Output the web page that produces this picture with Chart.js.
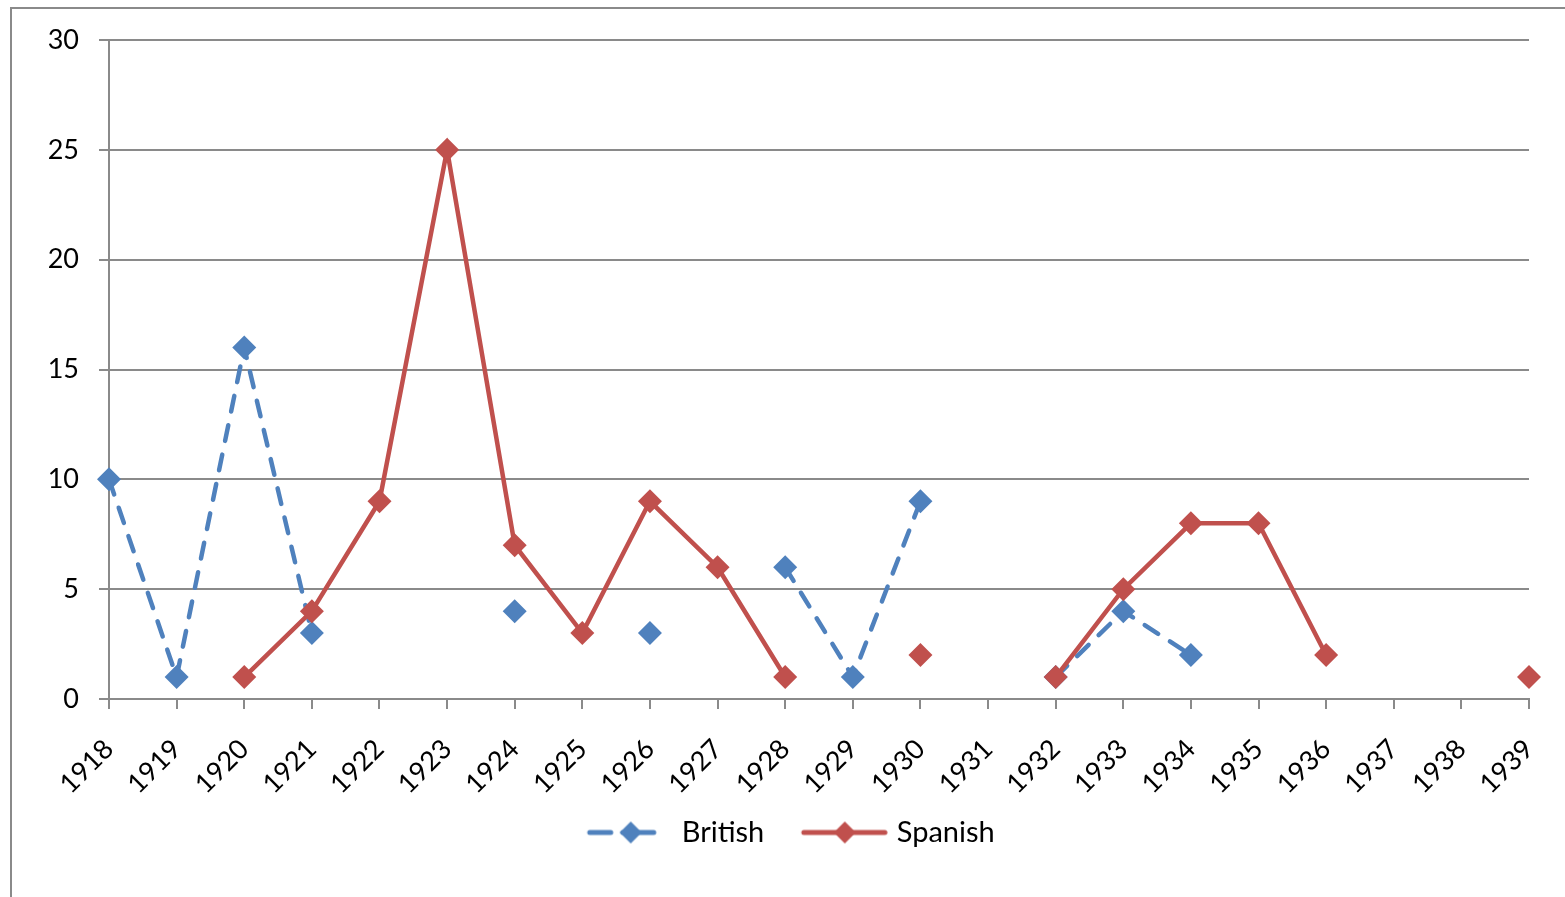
<!DOCTYPE html>
<html>
<head>
<meta charset="utf-8">
<script src="https://cdn.jsdelivr.net/npm/chart.js@4"></script>
<style>
  html, body { margin: 0; padding: 0; background: #fff; }
  #wrap { width: 1565px; height: 897px; position: relative; }
</style>
</head>
<body>
<div id="wrap"><canvas id="chart"></canvas></div>
<script>
const years = ["1918","1919","1920","1921","1922","1923","1924","1925","1926","1927","1928",
  "1929","1930","1931","1932","1933","1934","1935","1936","1937","1938","1939"];
const british = [10, 1, 16, 3, null, null, 4, null, 3, null, 6, 1, 9, null, 1, 4, 2, null, null, null, null, null];
const spanish = [null, null, 1, 4, 9, 25, 7, 3, 9, 6, 1, null, 2, null, 1, 5, 8, 8, 2, null, null, 1];
const yTicks = [0, 5, 10, 15, 20, 25, 30];

const BLUE = "#4F81BD";
const RED = "#C0504D";
const GRAY = "#8a8a8a";
const FONT = "Lato";

// legend swatch: line with a diamond in the middle
function swatch(color, dashed) {
  const c = document.createElement("canvas");
  c.width = 88; c.height = 30;
  const g = c.getContext("2d");
  g.strokeStyle = color;
  g.lineWidth = 5;
  g.lineCap = "round";
  g.beginPath();
  if (dashed) {
    g.moveTo(5, 15); g.lineTo(26, 15);
    g.moveTo(38, 15); g.lineTo(69, 15);
  } else {
    g.moveTo(4, 15); g.lineTo(85, 15);
  }
  g.stroke();
  g.fillStyle = color;
  g.beginPath();
  const cx = dashed ? 46 : 45;
  g.moveTo(cx - 11, 15); g.lineTo(cx, 4); g.lineTo(cx + 11, 15); g.lineTo(cx, 26);
  g.closePath(); g.fill();
  return c;
}
const swatches = [swatch(BLUE, true), swatch(RED, false)];

// outer chart border + nudge the legend to where excel put it
const frame = {
  id: "frame",
  afterLayout(chart) {
    const lg = chart.legend;
    lg.left += 28; lg.right += 28;
    lg.top -= 22; lg.bottom -= 22;
  },
  beforeDraw(chart) {
    const ctx = chart.ctx;
    ctx.save();
    ctx.strokeStyle = GRAY;
    ctx.lineWidth = 2;
    ctx.beginPath();
    ctx.moveTo(11, 900); ctx.lineTo(11, 8); ctx.lineTo(1570, 8);
    ctx.stroke();
    ctx.restore();
  }
};

new Chart(document.getElementById("chart"), {
  type: "line",
  data: {
    labels: years,
    datasets: [
      {
        label: "British",
        data: british,
        borderColor: BLUE,
        backgroundColor: BLUE,
        borderWidth: 4.5,
        borderDash: [16, 14],
        borderCapStyle: "round",
        pointStyle: "rectRot",
        pointRadius: 12,
        pointBorderWidth: 0,
        pointBackgroundColor: BLUE,
        tension: 0,
        order: 1
      },
      {
        label: "Spanish",
        data: spanish,
        borderColor: RED,
        backgroundColor: RED,
        borderWidth: 4.5,
        pointStyle: "rectRot",
        pointRadius: 12,
        pointBorderWidth: 0,
        pointBackgroundColor: RED,
        tension: 0,
        order: 0
      }
    ]
  },
  options: {
    responsive: true,
    maintainAspectRatio: false,
    animation: false,
    layout: { padding: { left: 0, right: 36, top: 40, bottom: 18 } },
    plugins: {
      tooltip: { enabled: false },
      legend: {
        position: "bottom",
        labels: {
          color: "#000",
          font: { family: FONT, size: 29 },
          usePointStyle: true,
          pointStyleWidth: 77,
          padding: 41,
          generateLabels(chart) {
            return chart.data.datasets.map((d, i) => ({
              text: d.label,
              pointStyle: swatches[i],
              fillStyle: d.borderColor,
              strokeStyle: d.borderColor,
              lineWidth: 0,
              hidden: false,
              datasetIndex: i,
              fontColor: "#000"
            }));
          }
        }
      }
    },
    scales: {
      x: {
        offset: false,
        afterFit(scale) {
          scale.height = 100;
          scale.paddingLeft = 0;
          scale.paddingRight = 0;
        },
        grid: { drawOnChartArea: false, drawTicks: true, tickLength: 10, color: GRAY, lineWidth: 2 },
        border: { color: GRAY, width: 2 },
        ticks: { color: "#000", font: { family: FONT, size: 27 }, minRotation: 45, maxRotation: 45, autoSkip: false, padding: 24 }
      },
      y: {
        min: 0,
        max: 30,
        afterFit(scale) { scale.width = 109; },
        afterBuildTicks(scale) { scale.ticks = yTicks.map(v => ({ value: v })); },
        grid: { color: GRAY, lineWidth: 2, tickLength: 10 },
        border: { color: GRAY, width: 2 },
        ticks: { color: "#000", font: { family: FONT, size: 27 }, padding: 20 }
      }
    }
  },
  plugins: [frame]
});
</script>
</body>
</html>
